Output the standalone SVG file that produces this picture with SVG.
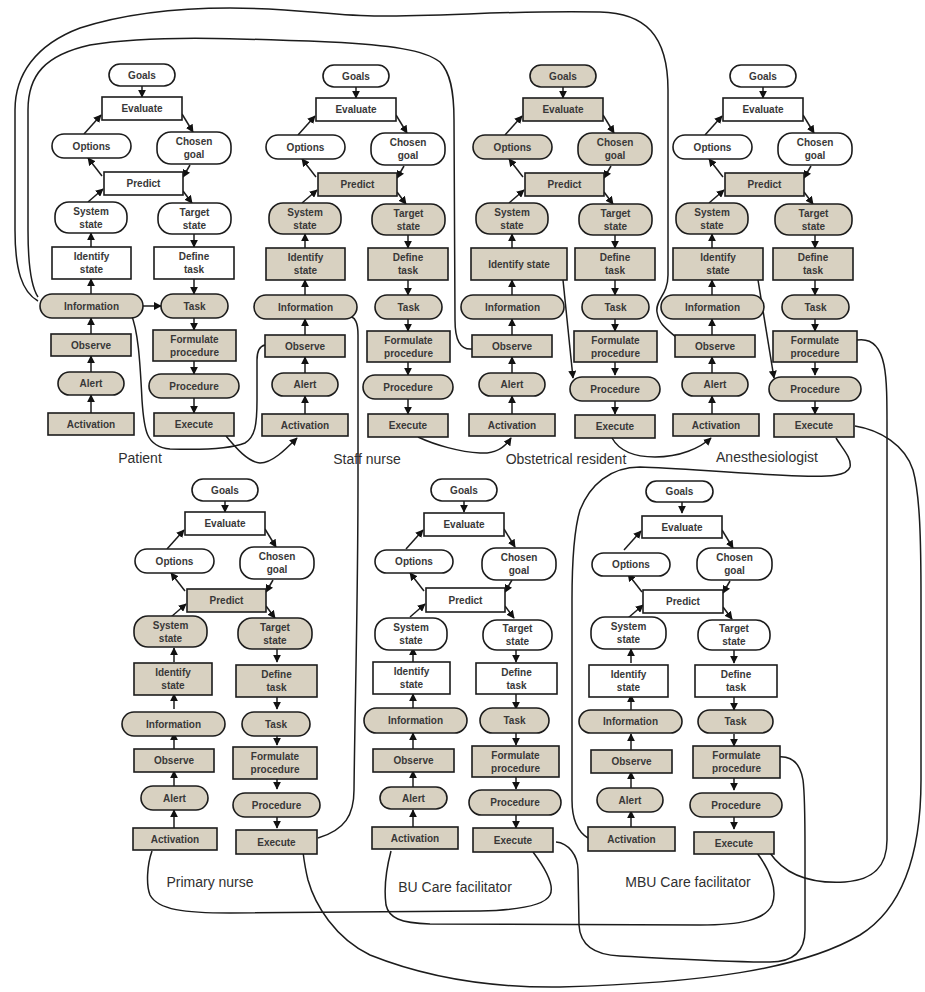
<svg xmlns="http://www.w3.org/2000/svg" width="925" height="992" viewBox="0 0 925 992">
<style>
  .ladder rect { stroke:#1c1c1c; stroke-width:1.6; }
  .w { fill:#ffffff; }
  .t { fill:#d8d1c1; }
  .ladder text { font-family:"Liberation Sans", Arial, sans-serif; font-size:10px; font-weight:bold; fill:#383838; text-anchor:middle; }
  .c { fill:none; stroke:#1c1c1c; stroke-width:1.5; }
  .a { marker-end:url(#ah); }
  .lbl { font-family:"Liberation Sans", Arial, sans-serif; font-size:14px; fill:#303030; text-anchor:middle; }
</style>
<defs>
  <marker id="ah" viewBox="0 0 10 10" refX="9" refY="5" markerWidth="8" markerHeight="8" markerUnits="userSpaceOnUse" orient="auto">
    <path d="M0,0 L10,5 L0,10 z" fill="#111"/>
  </marker>
  <!-- arrows of one decision ladder, origin at the centre of "Goals" -->
  <g id="ladder-links" class="c a">
    <path class="c a" d="M0,11 V22"/>
    <path class="c a" d="M40,39 L51,57"/>
    <path class="c a" d="M-58,59 L-41,40"/>
    <path class="c a" d="M-40,101 L-54,83"/>
    <path class="c a" d="M-54,127 L-39,114"/>
    <path class="c a" d="M48,90 L41,102"/>
    <path class="c a" d="M41,116 L50,128"/>
    <path class="c a" d="M-51,172 V158"/>
    <path class="c a" d="M52,159 V172"/>
    <path class="c a" d="M-51,219 V204"/>
    <path class="c a" d="M52,204 V219"/>
    <path class="c a" d="M-51,259 V243"/>
    <path class="c a" d="M52,243 V255"/>
    <path class="c a" d="M-51,297 V281"/>
    <path class="c a" d="M52,286 V299"/>
    <path class="c a" d="M-51,338 V320"/>
    <path class="c a" d="M52,323 V338"/>
  </g>
</defs>
<rect x="0" y="0" width="925" height="992" fill="#ffffff"/>

<g id="connectors">
  <g transform="translate(142,75)"><use href="#ladder-links"/><path class="c a" d="M1,231 H19"/></g>
  <g transform="translate(356,76)"><use href="#ladder-links"/></g>
  <g transform="translate(563,76)"><use href="#ladder-links"/><path class="c a" d="M0,204 L10,302"/></g>
  <g transform="translate(763,76)"><use href="#ladder-links"/><path class="c a" d="M-5,204 L11,302"/></g>
  <g transform="translate(225,490)"><use href="#ladder-links"/></g>
  <g transform="translate(464,490)"><use href="#ladder-links"/></g>
  <g transform="translate(682,491)"><use href="#ladder-links"/></g>

  <!-- links between the ladders -->
  <path class="c" d="M38,301 C22,292 15,270 15,230 L15,110 C15,75 35,45 80,28 C130,12 180,8 230,8 C300,8 330,16 380,16 C450,16 520,10 600,12 C645,13 668,35 668,90 L668,275 C668,295 655,300 657,312 C659,325 668,330 676,337"/>
  <path class="c" d="M38,297 C30,285 28,260 28,230 L28,110 C28,75 45,55 90,45 C150,35 230,38 330,42 C390,45 425,50 440,62 C450,72 454,90 454,120 L455,320 C455,340 460,350 472,349"/>
  <path class="c" d="M131,314 C138,330 140,360 142,400 C144,430 146,447 170,449 C200,450 230,449 245,443 C255,437 257,425 257,400 L257,360 C257,350 260,346 265,345"/>
  <path class="c a" d="M226,436 C236,448 248,462 260,463 C272,463 285,450 297,438"/>
  <path class="c" d="M350,316 C355,318 358,322 358,335 L358,480 C358,600 355,700 354,790 C354,815 345,830 318,838"/>
  <path class="c a" d="M418,437 C435,445 460,452 480,453 C495,454 505,447 511,438"/>
  <path class="c a" d="M612,438 C620,452 635,457 655,457 C680,457 700,448 711,438"/>
  <path class="c" d="M836,438 C842,448 852,458 850,467 C847,476 830,477 800,476 C740,474 680,468 640,467 C610,467 590,485 580,510 C574,530 572,560 572,600 L572,800 C572,820 578,832 588,838"/>
  <path class="c" d="M857,340 C870,338 880,345 884,365 C887,380 887,400 887,430 L887,840 C887,865 875,880 845,882 C810,884 785,875 770,853"/>
  <path class="c" d="M855,426 C880,430 905,445 913,470 C920,495 921,540 921,600 L921,780 C921,860 900,910 860,935 C800,970 700,983 560,987 C480,988 420,975 370,955 C335,938 315,905 308,880 C305,868 304,860 303,852"/>
  <path class="c" d="M152,851 C147,865 146,885 150,895 C158,910 185,913 230,913 L480,911 C520,910 545,905 550,895 C555,885 545,868 533,852"/>
  <path class="c" d="M391,851 C386,870 384,890 386,905 C389,918 400,923 430,924 L700,925 C740,925 765,920 772,905 C778,890 770,870 757,853"/>
  <path class="c" d="M776,757 C790,755 800,762 803,780 C805,795 805,820 805,850 L805,930 C805,950 795,962 770,962 C720,962 660,958 620,956 C595,955 580,945 579,925 L578,870 C578,855 568,843 556,842"/>
</g>

<!-- Patient -->
<g id="patient" class="ladder" transform="translate(142,75)">
  <g id="patient-goals"><rect class="w" x="-33" y="-11" width="66" height="22" rx="11"/><text x="0" y="3.6">Goals</text></g>
  <g id="patient-evaluate"><rect class="w" x="-40" y="22" width="80" height="23"/><text x="0" y="37.1">Evaluate</text></g>
  <g id="patient-options"><rect class="w" x="-90" y="59" width="79" height="24" rx="12"/><text x="-50.5" y="74.6">Options</text></g>
  <g id="patient-chosen-goal"><rect class="w" x="15" y="57" width="74" height="32" rx="14"/><text x="52" y="70.1">Chosen</text><text x="52" y="83.1">goal</text></g>
  <g id="patient-predict"><rect class="w" x="-38" y="97" width="79" height="23"/><text x="1.5" y="112.1">Predict</text></g>
  <g id="patient-system-state"><rect class="w" x="-87" y="127" width="72" height="31" rx="14"/><text x="-51" y="139.6">System</text><text x="-51" y="152.6">state</text></g>
  <g id="patient-target-state"><rect class="w" x="16" y="128" width="73" height="31" rx="14"/><text x="52.5" y="140.6">Target</text><text x="52.5" y="153.6">state</text></g>
  <g id="patient-identify-state"><rect class="w" x="-90" y="172" width="79" height="32"/><text x="-50.5" y="185.1">Identify</text><text x="-50.5" y="198.1">state</text></g>
  <g id="patient-define-task"><rect class="w" x="12" y="172" width="80" height="32"/><text x="52" y="185.1">Define</text><text x="52" y="198.1">task</text></g>
  <g id="patient-information"><rect class="t" x="-102" y="219" width="103" height="24" rx="12"/><text x="-50.5" y="234.6">Information</text></g>
  <g id="patient-task"><rect class="t" x="19" y="219" width="67" height="24" rx="12"/><text x="52.5" y="234.6">Task</text></g>
  <g id="patient-observe"><rect class="t" x="-91" y="259" width="80" height="22"/><text x="-51" y="273.6">Observe</text></g>
  <g id="patient-formulate-procedure"><rect class="t" x="11" y="255" width="83" height="31"/><text x="52.5" y="267.6">Formulate</text><text x="52.5" y="280.6">procedure</text></g>
  <g id="patient-alert"><rect class="t" x="-84" y="297" width="66" height="23" rx="11.5"/><text x="-51" y="312.1">Alert</text></g>
  <g id="patient-procedure"><rect class="t" x="7" y="299" width="90" height="24" rx="12"/><text x="52" y="314.6">Procedure</text></g>
  <g id="patient-activation"><rect class="t" x="-94" y="338" width="86" height="22"/><text x="-51" y="352.6">Activation</text></g>
  <g id="patient-execute"><rect class="t" x="12" y="338" width="80" height="23"/><text x="52" y="353.1">Execute</text></g>
</g>

<!-- Staff nurse -->
<g id="staff-nurse" class="ladder" transform="translate(356,76)">
  <g id="staff-nurse-goals"><rect class="w" x="-33" y="-11" width="66" height="22" rx="11"/><text x="0" y="3.6">Goals</text></g>
  <g id="staff-nurse-evaluate"><rect class="w" x="-40" y="22" width="80" height="23"/><text x="0" y="37.1">Evaluate</text></g>
  <g id="staff-nurse-options"><rect class="w" x="-90" y="59" width="79" height="24" rx="12"/><text x="-50.5" y="74.6">Options</text></g>
  <g id="staff-nurse-chosen-goal"><rect class="w" x="15" y="57" width="74" height="32" rx="14"/><text x="52" y="70.1">Chosen</text><text x="52" y="83.1">goal</text></g>
  <g id="staff-nurse-predict"><rect class="t" x="-38" y="97" width="79" height="23"/><text x="1.5" y="112.1">Predict</text></g>
  <g id="staff-nurse-system-state"><rect class="t" x="-87" y="127" width="72" height="31" rx="14"/><text x="-51" y="139.6">System</text><text x="-51" y="152.6">state</text></g>
  <g id="staff-nurse-target-state"><rect class="t" x="16" y="128" width="73" height="31" rx="14"/><text x="52.5" y="140.6">Target</text><text x="52.5" y="153.6">state</text></g>
  <g id="staff-nurse-identify-state"><rect class="t" x="-90" y="172" width="79" height="32"/><text x="-50.5" y="185.1">Identify</text><text x="-50.5" y="198.1">state</text></g>
  <g id="staff-nurse-define-task"><rect class="t" x="12" y="172" width="80" height="32"/><text x="52" y="185.1">Define</text><text x="52" y="198.1">task</text></g>
  <g id="staff-nurse-information"><rect class="t" x="-102" y="219" width="103" height="24" rx="12"/><text x="-50.5" y="234.6">Information</text></g>
  <g id="staff-nurse-task"><rect class="t" x="19" y="219" width="67" height="24" rx="12"/><text x="52.5" y="234.6">Task</text></g>
  <g id="staff-nurse-observe"><rect class="t" x="-91" y="259" width="80" height="22"/><text x="-51" y="273.6">Observe</text></g>
  <g id="staff-nurse-formulate-procedure"><rect class="t" x="11" y="255" width="83" height="31"/><text x="52.5" y="267.6">Formulate</text><text x="52.5" y="280.6">procedure</text></g>
  <g id="staff-nurse-alert"><rect class="t" x="-84" y="297" width="66" height="23" rx="11.5"/><text x="-51" y="312.1">Alert</text></g>
  <g id="staff-nurse-procedure"><rect class="t" x="7" y="299" width="90" height="24" rx="12"/><text x="52" y="314.6">Procedure</text></g>
  <g id="staff-nurse-activation"><rect class="t" x="-94" y="338" width="86" height="22"/><text x="-51" y="352.6">Activation</text></g>
  <g id="staff-nurse-execute"><rect class="t" x="12" y="338" width="80" height="23"/><text x="52" y="353.1">Execute</text></g>
</g>

<!-- Obstetrical resident -->
<g id="obstetrical-resident" class="ladder" transform="translate(563,76)">
  <g id="obstetrical-resident-goals"><rect class="t" x="-33" y="-11" width="66" height="22" rx="11"/><text x="0" y="3.6">Goals</text></g>
  <g id="obstetrical-resident-evaluate"><rect class="t" x="-40" y="22" width="80" height="23"/><text x="0" y="37.1">Evaluate</text></g>
  <g id="obstetrical-resident-options"><rect class="t" x="-90" y="59" width="79" height="24" rx="12"/><text x="-50.5" y="74.6">Options</text></g>
  <g id="obstetrical-resident-chosen-goal"><rect class="t" x="15" y="57" width="74" height="32" rx="14"/><text x="52" y="70.1">Chosen</text><text x="52" y="83.1">goal</text></g>
  <g id="obstetrical-resident-predict"><rect class="t" x="-38" y="97" width="79" height="23"/><text x="1.5" y="112.1">Predict</text></g>
  <g id="obstetrical-resident-system-state"><rect class="t" x="-87" y="127" width="72" height="31" rx="14"/><text x="-51" y="139.6">System</text><text x="-51" y="152.6">state</text></g>
  <g id="obstetrical-resident-target-state"><rect class="t" x="16" y="128" width="73" height="31" rx="14"/><text x="52.5" y="140.6">Target</text><text x="52.5" y="153.6">state</text></g>
  <g id="obstetrical-resident-identify-state"><rect class="t" x="-92" y="172" width="96" height="32"/><text x="-44" y="191.6">Identify state</text></g>
  <g id="obstetrical-resident-define-task"><rect class="t" x="12" y="172" width="80" height="32"/><text x="52" y="185.1">Define</text><text x="52" y="198.1">task</text></g>
  <g id="obstetrical-resident-information"><rect class="t" x="-102" y="219" width="103" height="24" rx="12"/><text x="-50.5" y="234.6">Information</text></g>
  <g id="obstetrical-resident-task"><rect class="t" x="19" y="219" width="67" height="24" rx="12"/><text x="52.5" y="234.6">Task</text></g>
  <g id="obstetrical-resident-observe"><rect class="t" x="-91" y="259" width="80" height="22"/><text x="-51" y="273.6">Observe</text></g>
  <g id="obstetrical-resident-formulate-procedure"><rect class="t" x="11" y="255" width="83" height="31"/><text x="52.5" y="267.6">Formulate</text><text x="52.5" y="280.6">procedure</text></g>
  <g id="obstetrical-resident-alert"><rect class="t" x="-84" y="297" width="66" height="23" rx="11.5"/><text x="-51" y="312.1">Alert</text></g>
  <g id="obstetrical-resident-procedure"><rect class="t" x="7" y="301" width="90" height="24" rx="12"/><text x="52" y="316.6">Procedure</text></g>
  <g id="obstetrical-resident-activation"><rect class="t" x="-94" y="338" width="86" height="22"/><text x="-51" y="352.6">Activation</text></g>
  <g id="obstetrical-resident-execute"><rect class="t" x="12" y="339" width="80" height="23"/><text x="52" y="354.1">Execute</text></g>
</g>

<!-- Anesthesiologist -->
<g id="anesthesiologist" class="ladder" transform="translate(763,76)">
  <g id="anesthesiologist-goals"><rect class="w" x="-33" y="-11" width="66" height="22" rx="11"/><text x="0" y="3.6">Goals</text></g>
  <g id="anesthesiologist-evaluate"><rect class="w" x="-40" y="22" width="80" height="23"/><text x="0" y="37.1">Evaluate</text></g>
  <g id="anesthesiologist-options"><rect class="w" x="-90" y="59" width="79" height="24" rx="12"/><text x="-50.5" y="74.6">Options</text></g>
  <g id="anesthesiologist-chosen-goal"><rect class="w" x="15" y="57" width="74" height="32" rx="14"/><text x="52" y="70.1">Chosen</text><text x="52" y="83.1">goal</text></g>
  <g id="anesthesiologist-predict"><rect class="t" x="-38" y="97" width="79" height="23"/><text x="1.5" y="112.1">Predict</text></g>
  <g id="anesthesiologist-system-state"><rect class="t" x="-87" y="127" width="72" height="31" rx="14"/><text x="-51" y="139.6">System</text><text x="-51" y="152.6">state</text></g>
  <g id="anesthesiologist-target-state"><rect class="t" x="12" y="128" width="77" height="31" rx="14"/><text x="50.5" y="140.6">Target</text><text x="50.5" y="153.6">state</text></g>
  <g id="anesthesiologist-identify-state"><rect class="t" x="-90" y="172" width="90" height="32"/><text x="-45" y="185.1">Identify</text><text x="-45" y="198.1">state</text></g>
  <g id="anesthesiologist-define-task"><rect class="t" x="10" y="172" width="80" height="32"/><text x="50" y="185.1">Define</text><text x="50" y="198.1">task</text></g>
  <g id="anesthesiologist-information"><rect class="t" x="-102" y="219" width="103" height="24" rx="12"/><text x="-50.5" y="234.6">Information</text></g>
  <g id="anesthesiologist-task"><rect class="t" x="19" y="219" width="67" height="24" rx="12"/><text x="52.5" y="234.6">Task</text></g>
  <g id="anesthesiologist-observe"><rect class="t" x="-88" y="259" width="80" height="22"/><text x="-48" y="273.6">Observe</text></g>
  <g id="anesthesiologist-formulate-procedure"><rect class="t" x="10" y="255" width="84" height="31"/><text x="52" y="267.6">Formulate</text><text x="52" y="280.6">procedure</text></g>
  <g id="anesthesiologist-alert"><rect class="t" x="-81" y="297" width="66" height="23" rx="11.5"/><text x="-48" y="312.1">Alert</text></g>
  <g id="anesthesiologist-procedure"><rect class="t" x="6" y="301" width="92" height="24" rx="12"/><text x="52" y="316.6">Procedure</text></g>
  <g id="anesthesiologist-activation"><rect class="t" x="-90" y="338" width="86" height="22"/><text x="-47" y="352.6">Activation</text></g>
  <g id="anesthesiologist-execute"><rect class="t" x="11" y="338" width="80" height="23"/><text x="51" y="353.1">Execute</text></g>
</g>

<!-- Primary nurse -->
<g id="primary-nurse" class="ladder" transform="translate(225,490)">
  <g id="primary-nurse-goals"><rect class="w" x="-33" y="-11" width="66" height="22" rx="11"/><text x="0" y="3.6">Goals</text></g>
  <g id="primary-nurse-evaluate"><rect class="w" x="-40" y="22" width="80" height="23"/><text x="0" y="37.1">Evaluate</text></g>
  <g id="primary-nurse-options"><rect class="w" x="-90" y="59" width="79" height="24" rx="12"/><text x="-50.5" y="74.6">Options</text></g>
  <g id="primary-nurse-chosen-goal"><rect class="w" x="15" y="57" width="74" height="32" rx="14"/><text x="52" y="70.1">Chosen</text><text x="52" y="83.1">goal</text></g>
  <g id="primary-nurse-predict"><rect class="t" x="-38" y="99" width="79" height="23"/><text x="1.5" y="114.1">Predict</text></g>
  <g id="primary-nurse-system-state"><rect class="t" x="-91" y="126" width="73" height="31" rx="14"/><text x="-54.5" y="138.6">System</text><text x="-54.5" y="151.6">state</text></g>
  <g id="primary-nurse-target-state"><rect class="t" x="13" y="128" width="74" height="31" rx="14"/><text x="50" y="140.6">Target</text><text x="50" y="153.6">state</text></g>
  <g id="primary-nurse-identify-state"><rect class="t" x="-91" y="173" width="78" height="32"/><text x="-52" y="186.1">Identify</text><text x="-52" y="199.1">state</text></g>
  <g id="primary-nurse-define-task"><rect class="t" x="11" y="175" width="81" height="32"/><text x="51.5" y="188.1">Define</text><text x="51.5" y="201.1">task</text></g>
  <g id="primary-nurse-information"><rect class="t" x="-103" y="222" width="103" height="24" rx="12"/><text x="-51.5" y="237.6">Information</text></g>
  <g id="primary-nurse-task"><rect class="t" x="17" y="222" width="68" height="24" rx="12"/><text x="51" y="237.6">Task</text></g>
  <g id="primary-nurse-observe"><rect class="t" x="-91" y="259" width="80" height="23"/><text x="-51" y="274.1">Observe</text></g>
  <g id="primary-nurse-formulate-procedure"><rect class="t" x="8" y="257" width="84" height="32"/><text x="50" y="270.1">Formulate</text><text x="50" y="283.1">procedure</text></g>
  <g id="primary-nurse-alert"><rect class="t" x="-84" y="296" width="67" height="24" rx="12"/><text x="-50.5" y="311.6">Alert</text></g>
  <g id="primary-nurse-procedure"><rect class="t" x="8" y="303" width="87" height="24" rx="12"/><text x="51.5" y="318.6">Procedure</text></g>
  <g id="primary-nurse-activation"><rect class="t" x="-92" y="338" width="84" height="22"/><text x="-50" y="352.6">Activation</text></g>
  <g id="primary-nurse-execute"><rect class="t" x="11" y="340" width="81" height="24"/><text x="51.5" y="355.6">Execute</text></g>
</g>

<!-- BU Care facilitator -->
<g id="bu-care-facilitator" class="ladder" transform="translate(464,490)">
  <g id="bu-care-facilitator-goals"><rect class="w" x="-33" y="-11" width="66" height="22" rx="11"/><text x="0" y="3.6">Goals</text></g>
  <g id="bu-care-facilitator-evaluate"><rect class="w" x="-40" y="23" width="80" height="23"/><text x="0" y="38.1">Evaluate</text></g>
  <g id="bu-care-facilitator-options"><rect class="w" x="-89" y="60" width="78" height="23" rx="11.5"/><text x="-50" y="75.1">Options</text></g>
  <g id="bu-care-facilitator-chosen-goal"><rect class="w" x="18" y="58" width="74" height="32" rx="14"/><text x="55" y="71.1">Chosen</text><text x="55" y="84.1">goal</text></g>
  <g id="bu-care-facilitator-predict"><rect class="w" x="-38" y="98" width="79" height="24"/><text x="1.5" y="113.6">Predict</text></g>
  <g id="bu-care-facilitator-system-state"><rect class="w" x="-89" y="128" width="72" height="32" rx="14"/><text x="-53" y="141.1">System</text><text x="-53" y="154.1">state</text></g>
  <g id="bu-care-facilitator-target-state"><rect class="w" x="19" y="130" width="69" height="30" rx="14"/><text x="53.5" y="142.1">Target</text><text x="53.5" y="155.1">state</text></g>
  <g id="bu-care-facilitator-identify-state"><rect class="w" x="-91" y="172" width="77" height="32"/><text x="-52.5" y="185.1">Identify</text><text x="-52.5" y="198.1">state</text></g>
  <g id="bu-care-facilitator-define-task"><rect class="w" x="12" y="173" width="81" height="31"/><text x="52.5" y="185.6">Define</text><text x="52.5" y="198.6">task</text></g>
  <g id="bu-care-facilitator-information"><rect class="t" x="-100" y="218" width="103" height="25" rx="12.5"/><text x="-48.5" y="234.1">Information</text></g>
  <g id="bu-care-facilitator-task"><rect class="t" x="16" y="218" width="69" height="25" rx="12.5"/><text x="50.5" y="234.1">Task</text></g>
  <g id="bu-care-facilitator-observe"><rect class="t" x="-91" y="259" width="81" height="23"/><text x="-50.5" y="274.1">Observe</text></g>
  <g id="bu-care-facilitator-formulate-procedure"><rect class="t" x="8" y="256" width="87" height="31"/><text x="51.5" y="268.6">Formulate</text><text x="51.5" y="281.6">procedure</text></g>
  <g id="bu-care-facilitator-alert"><rect class="t" x="-84" y="297" width="67" height="22" rx="11"/><text x="-50.5" y="311.6">Alert</text></g>
  <g id="bu-care-facilitator-procedure"><rect class="t" x="5" y="300" width="92" height="25" rx="12.5"/><text x="51" y="316.1">Procedure</text></g>
  <g id="bu-care-facilitator-activation"><rect class="t" x="-92" y="337" width="86" height="22"/><text x="-49" y="351.6">Activation</text></g>
  <g id="bu-care-facilitator-execute"><rect class="t" x="9" y="338" width="80" height="24"/><text x="49" y="353.6">Execute</text></g>
</g>

<!-- MBU Care facilitator -->
<g id="mbu-care-facilitator" class="ladder" transform="translate(682,491)">
  <g id="mbu-care-facilitator-goals"><rect class="w" x="-36" y="-10" width="67" height="21" rx="10.5"/><text x="-2.5" y="4.1">Goals</text></g>
  <g id="mbu-care-facilitator-evaluate"><rect class="w" x="-40" y="25" width="80" height="22"/><text x="0" y="39.6">Evaluate</text></g>
  <g id="mbu-care-facilitator-options"><rect class="w" x="-90" y="62" width="78" height="23" rx="11.5"/><text x="-51" y="77.1">Options</text></g>
  <g id="mbu-care-facilitator-chosen-goal"><rect class="w" x="15" y="57" width="75" height="32" rx="14"/><text x="52.5" y="70.1">Chosen</text><text x="52.5" y="83.1">goal</text></g>
  <g id="mbu-care-facilitator-predict"><rect class="w" x="-39" y="99" width="80" height="23"/><text x="1" y="114.1">Predict</text></g>
  <g id="mbu-care-facilitator-system-state"><rect class="w" x="-91" y="126" width="75" height="32" rx="14"/><text x="-53.5" y="139.1">System</text><text x="-53.5" y="152.1">state</text></g>
  <g id="mbu-care-facilitator-target-state"><rect class="w" x="16" y="129" width="72" height="30" rx="14"/><text x="52" y="141.1">Target</text><text x="52" y="154.1">state</text></g>
  <g id="mbu-care-facilitator-identify-state"><rect class="w" x="-93" y="174" width="79" height="32"/><text x="-53.5" y="187.1">Identify</text><text x="-53.5" y="200.1">state</text></g>
  <g id="mbu-care-facilitator-define-task"><rect class="w" x="13" y="174" width="82" height="32"/><text x="54" y="187.1">Define</text><text x="54" y="200.1">task</text></g>
  <g id="mbu-care-facilitator-information"><rect class="t" x="-103" y="219" width="103" height="23" rx="11.5"/><text x="-51.5" y="234.1">Information</text></g>
  <g id="mbu-care-facilitator-task"><rect class="t" x="16" y="219" width="75" height="23" rx="11.5"/><text x="53.5" y="234.1">Task</text></g>
  <g id="mbu-care-facilitator-observe"><rect class="t" x="-91" y="259" width="81" height="23"/><text x="-50.5" y="274.1">Observe</text></g>
  <g id="mbu-care-facilitator-formulate-procedure"><rect class="t" x="11" y="255" width="87" height="32"/><text x="54.5" y="268.1">Formulate</text><text x="54.5" y="281.1">procedure</text></g>
  <g id="mbu-care-facilitator-alert"><rect class="t" x="-85" y="297" width="66" height="24" rx="12"/><text x="-52" y="312.6">Alert</text></g>
  <g id="mbu-care-facilitator-procedure"><rect class="t" x="8" y="302" width="92" height="24" rx="12"/><text x="54" y="317.6">Procedure</text></g>
  <g id="mbu-care-facilitator-activation"><rect class="t" x="-94" y="336" width="87" height="24"/><text x="-50.5" y="351.6">Activation</text></g>
  <g id="mbu-care-facilitator-execute"><rect class="t" x="12" y="341" width="80" height="22"/><text x="52" y="355.6">Execute</text></g>
</g>

<g id="labels">
  <text class="lbl" x="140" y="463">Patient</text>
  <text class="lbl" x="367" y="464">Staff nurse</text>
  <text class="lbl" x="566" y="464">Obstetrical resident</text>
  <text class="lbl" x="767" y="462">Anesthesiologist</text>
  <text class="lbl" x="210" y="887">Primary nurse</text>
  <text class="lbl" x="455" y="892">BU Care facilitator</text>
  <text class="lbl" x="688" y="887">MBU Care facilitator</text>
</g>
</svg>
